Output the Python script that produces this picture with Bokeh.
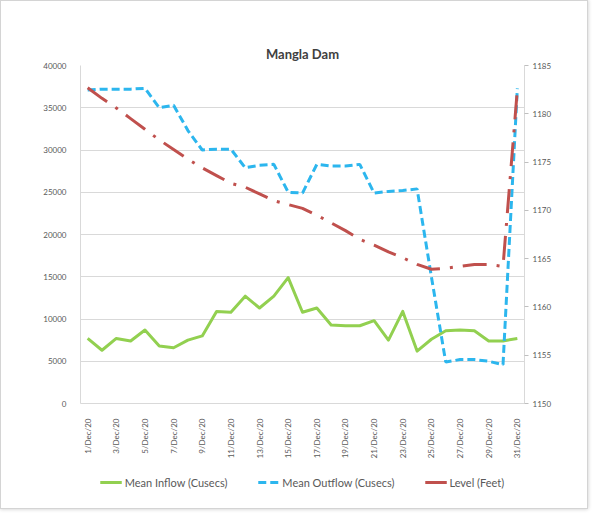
import math
from bokeh.plotting import figure
from bokeh.layouts import column
from bokeh.models import Range1d, LinearAxis, FixedTicker, Legend, LegendItem
from bokeh.embed import file_html
from bokeh.resources import INLINE

# ---- data ----
days = list(range(1, 32))
date_labels = [f"{d}/Dec/20" for d in days]
inflow = [7700, 6300, 7700, 7400, 8700, 6800, 6600, 7500, 8000, 10900,
          10800, 12700, 11300, 12700, 14900, 10800, 11300, 9300, 9200, 9200,
          9800, 7500, 10900, 6200, 7600, 8600, 8700, 8600, 7400, 7400, 7700]
outflow = [37100, 37200, 37200, 37200, 37300, 35000, 35300, 32300, 30000, 30100,
           30100, 27900, 28200, 28300, 25000, 24900, 28300, 28100, 28100, 28300,
           24900, 25100, 25200, 25400, 15000, 4900, 5200, 5200, 5000, 4600, 37300]
level = [1182.7, 1181.6, 1180.6, 1179.5, 1178.4, 1177.3, 1176.3, 1175.3, 1174.4, 1173.6,
         1172.8, 1172.4, 1171.7, 1171.0, 1170.6, 1170.2, 1169.5, 1168.7, 1167.9, 1167.0,
         1166.4, 1165.7, 1165.1, 1164.4, 1163.9, 1164.0, 1164.2, 1164.4, 1164.4, 1164.2, 1182.5]
series_names = ["Mean Inflow (Cusecs)", "Mean Outflow (Cusecs)", "Level (Feet)"]
left_ticks = list(range(0, 40001, 5000))
right_ticks = list(range(1150, 1186, 5))
shown_days = list(range(1, 32, 2))

FONT = "Lato"
GRAY = "#595959"
C_IN, C_OUT, C_LEV = "#92d050", "#2cb6ee", "#c0504d"
DASH_OUT, DASH_LEV = "8 4", "24 10 3 10"

p = figure(width=586, height=469, output_backend="svg", toolbar_location=None,
           x_range=Range1d(0.5, 31.5), y_range=Range1d(0, 40000),
           min_border_left=79, min_border_right=63, min_border_top=64,
           min_border_bottom=67, background_fill_color="white",
           border_fill_color="white")
p.extra_y_ranges = {"level": Range1d(1150, 1185)}
p.outline_line_color = None

# title
p.title.text = "Mangla Dam"
p.title.align = "center"
p.title.text_font = FONT
p.title.text_font_size = "13px"
p.title.text_font_style = "bold"
p.title.text_color = "#404040"
p.title.standoff = 7

# axes
xa = p.xaxis[0]
xa.ticker = FixedTicker(ticks=shown_days)
xa.major_label_overrides = {d: date_labels[d - 1] for d in shown_days}
xa.major_label_orientation = math.pi / 2
xa.major_label_text_font = FONT
xa.major_label_text_font_size = "8px"
xa.major_label_text_color = GRAY
xa.major_tick_line_color = None
xa.minor_tick_line_color = None
xa.axis_line_color = "#d9d9d9"
xa.major_label_standoff = 9

ya = p.yaxis[0]
ya.ticker = FixedTicker(ticks=left_ticks)
ya.major_label_text_font = FONT
ya.major_label_text_font_size = "8px"
ya.major_label_text_color = GRAY
ya.major_tick_line_color = None
ya.minor_tick_line_color = None
ya.axis_line_color = "#d9d9d9"
ya.major_label_standoff = 8

ra = LinearAxis(y_range_name="level", ticker=FixedTicker(ticks=right_ticks))
ra.major_label_text_font = FONT
ra.major_label_text_font_size = "8px"
ra.major_label_text_color = GRAY
ra.major_tick_line_color = "#bfbfbf"
ra.major_tick_in = 0
ra.major_tick_out = 4
ra.minor_tick_line_color = None
ra.axis_line_color = "#d9d9d9"
ra.major_label_standoff = 4
p.add_layout(ra, "right")

p.xgrid.visible = False
p.ygrid.ticker = FixedTicker(ticks=left_ticks)
p.ygrid.grid_line_color = "#d9d9d9"

# series
p.line(days, inflow, line_color=C_IN, line_width=3, line_join="round")
p.line(days, outflow, line_color=C_OUT, line_width=3, line_dash=DASH_OUT)
p.line(days, level, y_range_name="level", line_color=C_LEV, line_width=3,
       line_dash=DASH_LEV)

# legend strip below the chart (its renderers fall outside its visible range,
# so only the legend itself is seen)
lf = figure(width=586, height=38, output_backend="svg", toolbar_location=None,
            x_range=Range1d(100, 101), y_range=Range1d(0, 1),
            min_border_left=10, min_border_right=0, min_border_top=0,
            min_border_bottom=14, border_fill_color="white")
lf.axis.visible = False
lf.grid.visible = False
lf.outline_line_color = None
r1 = lf.line(days, inflow, line_color=C_IN, line_width=3)
r2 = lf.line(days, outflow, line_color=C_OUT, line_width=3, line_dash=DASH_OUT)
r3 = lf.line(days, level, line_color=C_LEV, line_width=3, line_dash=DASH_LEV)
legend = Legend(items=[LegendItem(label=series_names[0], renderers=[r1]),
                       LegendItem(label=series_names[1], renderers=[r2]),
                       LegendItem(label=series_names[2], renderers=[r3])],
                orientation="horizontal", location="center")
legend.label_text_font = FONT
legend.label_text_font_size = "11px"
legend.label_text_color = GRAY
legend.glyph_width = 22
legend.glyph_height = 14
legend.label_standoff = 3
legend.spacing = 30
legend.border_line_color = None
legend.background_fill_alpha = 0
legend.margin = 0
legend.padding = 0
lf.add_layout(legend)

layout = column(p, lf, spacing=0,
                styles={"border": "1px solid #d4d4d4",
                        "box-shadow": "0 0 4px #c8c8c8"})
open("out.html", "w").write(file_html(layout, INLINE))
